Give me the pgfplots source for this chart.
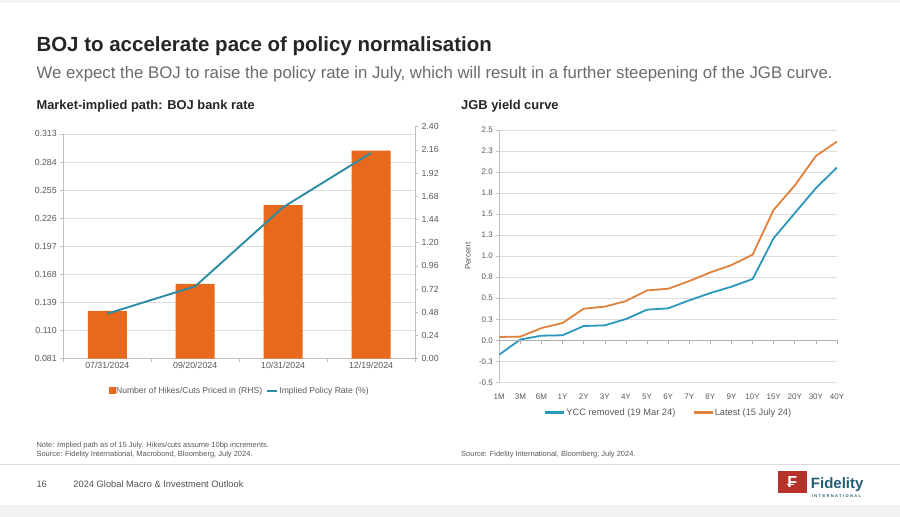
\documentclass[border=0pt]{standalone}
\usepackage{pgfplots}
\pgfplotsset{compat=1.18}
\usepackage{fontspec}
\setmainfont{Liberation Sans}
\definecolor{barc}{HTML}{E8691D}
\definecolor{linel}{HTML}{2B8DA3}
\definecolor{blueR}{HTML}{2A98BC}
\definecolor{orangeR}{HTML}{E0803A}
\definecolor{gridc}{HTML}{DDDDDD}
\definecolor{axisc}{HTML}{BFBFBF}
\definecolor{zeroc}{HTML}{B0B0B0}
\definecolor{tickc}{HTML}{595959}
\definecolor{titlec}{HTML}{262626}
\definecolor{subc}{HTML}{6B6B6B}
\definecolor{fidred}{HTML}{B7322B}
\definecolor{fidteal}{HTML}{245E74}
\definecolor{bandc}{HTML}{F2F2F2}
\begin{document}
\begin{tikzpicture}[x=1pt,y=1pt]
\fill[white] (0,0) rectangle (900,517);
\fill[bandc] (0,514) rectangle (900,517);
\fill[bandc] (0,0) rectangle (900,12);
\draw[gridc, line width=0.7pt] (0,52) -- (900,52);
% titles
\node[anchor=base west, inner sep=0, text=titlec, font=\fontsize{20.5}{24}\selectfont\bfseries] at (36,465) {BOJ to accelerate pace of policy normalisation};
\node[anchor=base west, inner sep=0, text=subc, font=\fontsize{16.8}{20}\selectfont] at (36,438.5) {We expect the BOJ to raise the policy rate in July, which will result in a further steepening of the JGB curve.};
\node[anchor=base west, inner sep=0, text=titlec, font=\fontsize{12.9}{15}\selectfont\bfseries] at (36,407) {Market-implied path: BOJ bank rate};
\node[anchor=base west, inner sep=0, text=titlec, font=\fontsize{12.9}{15}\selectfont\bfseries] at (461,407) {JGB yield curve};
% footnotes
\node[anchor=base west, inner sep=0, text=tickc, font=\fontsize{7.5}{9}\selectfont] at (36,69) {Note: Implied path as of 15 July. Hikes/cuts assume 10bp increments.};
\node[anchor=base west, inner sep=0, text=tickc, font=\fontsize{7.5}{9}\selectfont] at (36,60.5) {Source: Fidelity International, Macrobond, Bloomberg, July 2024.};
\node[anchor=base west, inner sep=0, text=tickc, font=\fontsize{7.5}{9}\selectfont] at (461,60.5) {Source: Fidelity International, Bloomberg, July 2024.};
\node[anchor=base west, inner sep=0, text=titlec!80, font=\fontsize{9.3}{11}\selectfont] at (36,29) {16};
\node[anchor=base west, inner sep=0, text=titlec!80, font=\fontsize{9.3}{11}\selectfont] at (73,29) {2024 Global Macro \& Investment Outlook};
% logo
\fill[fidred] (778,24) rectangle (807,46);
\node[anchor=center, inner sep=0, text=white, font=\fontsize{16}{18}\selectfont\bfseries] at (792.5,35) {F};
\draw[white, line width=1.2pt] (787.5,32) -- (794,32);
\node[anchor=base west, inner sep=0, text=fidteal, font=\fontsize{15}{18}\selectfont\bfseries] at (811,28) {Fidelity};
\node[anchor=base west, inner sep=0, text=fidteal, font=\fontsize{4}{5}\selectfont\bfseries\addfontfeatures{LetterSpace=35}] at (812,19.5) {INTERNATIONAL};

% ===== Left chart =====
\begin{axis}[
  at={(63pt,158pt)}, anchor=south west, scale only axis, width=352pt, height=225pt,
  xmin=-0.5, xmax=3.5, ymin=0.081, ymax=0.313,
  axis x line*=bottom, axis y line*=left,
  axis line style={draw=axisc, line width=0.7pt, -},
  ytick={0.081,0.110,0.139,0.168,0.197,0.226,0.255,0.284,0.313},
  yticklabels={0.081,0.110,0.139,0.168,0.197,0.226,0.255,0.284,0.313},
  ymajorgrids, grid style={draw=gridc, line width=0.6pt},
  xtick={-0.5,0.5,1.5,2.5,3.5}, xticklabels={},
  extra x ticks={0,1,2,3},
  extra x tick labels={07/31/2024,09/20/2024,10/31/2024,12/19/2024},
  extra x tick style={grid=none, major tick length=0pt},
  tick align=outside, major tick length=3pt,
  tick style={draw=axisc, line width=0.6pt},
  ticklabel style={font=\fontsize{8.8}{10}\selectfont, text=tickc},
]
\end{axis}
\begin{axis}[
  at={(63pt,158pt)}, anchor=south west, scale only axis, width=352pt, height=232.3pt,
  xmin=-0.5, xmax=3.5, ymin=0, ymax=2.4,
  axis x line=none, axis y line*=right,
  axis line style={draw=axisc, line width=0.7pt, -},
  ytick={0,0.24,0.48,0.72,0.96,1.2,1.44,1.68,1.92,2.16,2.4},
  yticklabels={0.00,0.24,0.48,0.72,0.96,1.20,1.44,1.68,1.92,2.16,2.40},
  tick align=outside, major tick length=3pt,
  tick style={draw=axisc, line width=0.6pt},
  ticklabel style={font=\fontsize{8.8}{10}\selectfont, text=tickc},
]
\addplot[ybar, bar width=39pt, fill=barc, draw=none] coordinates {(0,0.496) (1,0.775) (2,1.587) (3,2.152)};
\end{axis}
\begin{axis}[
  at={(63pt,158pt)}, anchor=south west, scale only axis, width=352pt, height=225pt,
  xmin=-0.5, xmax=3.5, ymin=0.081, ymax=0.313, hide axis,
  legend style={at={(0.5,-0.142)}, anchor=center, draw=none, fill=none,
    legend columns=2, font=\fontsize{8.6}{10}\selectfont, text=tickc,
    /tikz/every even column/.append style={column sep=3pt},
    nodes={inner sep=1pt}},
]
\addlegendimage{legend image code/.code={\fill[barc] (0pt,-3pt) rectangle (6pt,3pt);}}
\addlegendentry{Number of Hikes/Cuts Priced in (RHS)}
\addplot[linel, line width=1.9pt, legend image code/.code={\draw[linel, line width=2.2pt] (0pt,0pt) -- (10pt,0pt);}] coordinates {(0,0.1275) (1,0.1557) (2,0.2373) (3,0.2934)};
\addlegendentry{Implied Policy Rate (\%)}
\end{axis}

% ===== Right chart =====
\begin{axis}[
  at={(499.3pt,134.3pt)}, anchor=south west, scale only axis, width=338pt, height=252.7pt,
  xmin=0, xmax=16, ymin=-0.5, ymax=2.5,
  axis x line*=bottom, axis y line*=left,
  x axis line style={draw=none}, y axis line style={draw=axisc, line width=0.7pt, -},
  xtick={0,1,2,3,4,5,6,7,8,9,10,11,12,13,14,15,16},
  xticklabels={1M,3M,6M,1Y,2Y,3Y,4Y,5Y,6Y,7Y,8Y,9Y,10Y,15Y,20Y,30Y,40Y},
  xtick style={draw=none},
  xticklabel style={yshift=-5pt},
  ytick={-0.5,-0.25,0,0.25,0.5,0.75,1,1.25,1.5,1.75,2,2.25,2.5},
  yticklabels={-0.5,-0.3,0.0,0.3,0.5,0.8,1.0,1.3,1.5,1.8,2.0,2.3,2.5},
  ymajorgrids, grid style={draw=gridc, line width=0.6pt},
  tick align=outside, major tick length=3pt,
  ytick style={draw=axisc, line width=0.6pt},
  ticklabel style={font=\fontsize{8}{10}\selectfont, text=tickc},
  ylabel={Percent},
  ylabel style={at={(axis description cs:-0.093,0.5)}, anchor=center, font=\fontsize{8}{10}\selectfont, text=tickc},
  legend style={at={(0.5,-0.119)}, anchor=center, draw=none, fill=none,
    legend columns=2, font=\fontsize{9.3}{11}\selectfont, text=tickc,
    /tikz/every even column/.append style={column sep=16pt},
    nodes={inner sep=1pt}},
]
\addplot[blueR, line width=1.8pt, legend image code/.code={\draw[blueR, line width=2.4pt] (0pt,0pt) -- (19pt,0pt);}] coordinates {
(0,-0.17) (1,0.01) (2,0.055) (3,0.06) (4,0.17) (5,0.178) (6,0.253) (7,0.364) (8,0.38)
(9,0.475) (10,0.562) (11,0.637) (12,0.728) (13,1.214) (14,1.511) (15,1.808) (16,2.053)};
\addlegendentry{YCC removed (19 Mar 24)}
\addplot[orangeR, line width=1.8pt, legend image code/.code={\draw[orangeR, line width=2.4pt] (0pt,0pt) -- (19pt,0pt);}] coordinates {
(0,0.04) (1,0.044) (2,0.146) (3,0.206) (4,0.376) (5,0.4) (6,0.467) (7,0.593) (8,0.613)
(9,0.704) (10,0.807) (11,0.894) (12,1.017) (13,1.551) (14,1.84) (15,2.19) (16,2.362)};
\addlegendentry{Latest (15 July 24)}
\end{axis}
\begin{axis}[
  at={(499.3pt,134.3pt)}, anchor=south west, scale only axis, width=338pt, height=252.7pt,
  xmin=0, xmax=16, ymin=-0.5, ymax=2.5,
  axis x line=middle, axis y line=none,
  axis line style={draw=zeroc, line width=0.8pt, -},
  xtick={0,1,2,3,4,5,6,7,8,9,10,11,12,13,14,15,16}, xticklabels={},
  tick align=outside, major tick length=4pt,
  xtick style={draw=zeroc, line width=0.6pt},
]
\end{axis}
\end{tikzpicture}
\end{document}
